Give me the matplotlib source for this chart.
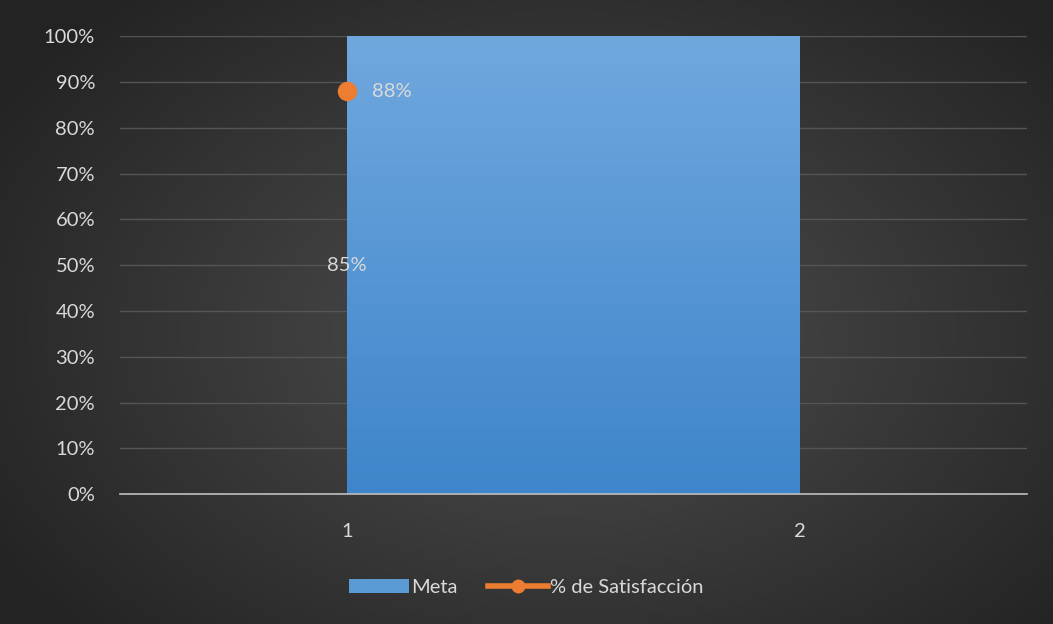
import numpy as np
import matplotlib.pyplot as plt
from matplotlib.patches import Rectangle, Polygon
from matplotlib.lines import Line2D

categories = [1, 2]
meta = [1.0, 1.0]
meta_label = "85%"
satisf_x = [1]
satisf = [0.88]
satisf_label = "88%"
yticks = [0, 0.1, 0.2, 0.3, 0.4, 0.5, 0.6, 0.7, 0.8, 0.9, 1.0]

plt.rcParams['font.family'] = ['Lato', 'DejaVu Sans']
txt = '#d9d9d9'
fs = 14.5

fig = plt.figure(figsize=(10.53, 6.24), dpi=100)

# radial-ish dark background
bg = fig.add_axes([0, 0, 1, 1])
yy, xx = np.mgrid[0:624, 0:1053]
r = np.sqrt(((xx - 560) / 620.0) ** 2 + ((yy - 330) / 420.0) ** 2)
shade = np.clip(0.31 - 0.16 * r, 0.14, 0.31)
bg.imshow(np.dstack([shade] * 3), aspect='auto', extent=[0, 1, 0, 1])
bg.set_axis_off()

ax = fig.add_axes([0.114, 0.208, 0.861, 0.734])
ax.set_facecolor('none')
ax.set_xlim(0.5, 2.5)
ax.set_ylim(0, 1.0)

# Meta area with vertical gradient
grad = np.linspace(0, 1, 256).reshape(-1, 1)
top = np.array([112, 168, 222]) / 255
bot = np.array([62, 133, 203]) / 255
img = bot + (top - bot) * grad[:, :, None] * np.ones((1, 2, 1))
poly = Polygon([(categories[0], 0)] + list(zip(categories, meta)) + [(categories[-1], 0)],
               closed=True, facecolor='none', edgecolor='none')
ax.add_patch(poly)
im = ax.imshow(img, origin='lower', aspect='auto',
               extent=[categories[0], categories[-1], 0, max(meta)], zorder=2)
im.set_clip_path(poly)
ax.text(categories[0], 0.5, meta_label, color=txt, fontsize=fs, ha='center', va='center', zorder=4)

ax.plot(satisf_x, satisf, color='#ed7d31', marker='o', markersize=13, lw=3, zorder=5)
ax.text(satisf_x[0] + 0.055, satisf[0], satisf_label, color=txt, fontsize=fs, ha='left', va='center', zorder=5)

ax.set_yticks(yticks)
ax.set_yticklabels([f"{int(round(v * 100))}%" for v in yticks])
ax.set_xticks(categories)
ax.set_xticklabels([str(c) for c in categories])
ax.grid(axis='y', color='#555555', lw=1, zorder=1)
ax.set_axisbelow(True)
for s in ['top', 'right', 'left']:
    ax.spines[s].set_visible(False)
ax.spines['bottom'].set_color('#bfbfbf')
ax.spines['bottom'].set_linewidth(1.2)
ax.spines['bottom'].set_zorder(6)
ax.tick_params(axis='both', length=0, colors=txt, labelsize=fs)
ax.tick_params(axis='y', pad=18)
ax.tick_params(axis='x', pad=21)

handles = [Rectangle((0, 0), 1, 1, facecolor='#5b9bd5'),
           Line2D([], [], color='#ed7d31', marker='o', lw=4, markersize=9)]
leg = fig.legend(handles, ['Meta', '% de Satisfacción'], loc='center', bbox_to_anchor=(0.5, 0.059),
                 ncol=2, frameon=False, fontsize=fs, labelcolor=txt, handlelength=3.0,
                 handletextpad=0.1, columnspacing=1.5)

fig.savefig('out.png', dpi=100)
